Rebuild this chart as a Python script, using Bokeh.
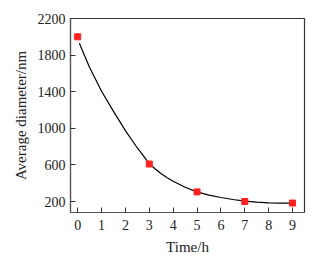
from bokeh.plotting import figure
from bokeh.models import Range1d, FixedTicker
from bokeh.embed import file_html
from bokeh.resources import INLINE

# measured points
time_h = [0, 3, 5, 7, 9]
diameter_nm = [2000, 610, 305, 200, 183]

# fitted curve
curve_x = [0.07, 0.5, 1.0, 1.5, 2.0, 2.5, 3.0, 3.25, 3.5, 3.75, 4.0, 4.5, 5.0, 5.5, 6.0, 6.5, 7.0, 7.5, 8.0, 8.5, 9.0]
curve_y = [1930, 1665, 1405, 1185, 975, 785, 615, 555, 503, 460, 422, 356, 305, 270, 244, 222, 205, 193, 186, 183, 182]

x_ticks = [0, 1, 2, 3, 4, 5, 6, 7, 8, 9]
y_ticks = [200, 600, 1000, 1400, 1800, 2200]

FONT = "Liberation Serif"

p = figure(width=319, height=262, output_backend="svg", toolbar_location=None,
           x_range=Range1d(-0.3, 9.5), y_range=Range1d(80, 2200),
           min_border_left=70, min_border_right=15, min_border_top=18, min_border_bottom=50)
p.background_fill_color = "white"
p.border_fill_color = "white"
p.outline_line_color = "#333333"
p.outline_line_width = 1.2
p.xgrid.visible = False
p.ygrid.visible = False

p.line(curve_x, curve_y, line_color="black", line_width=1.2)
p.scatter(time_h, diameter_nm, marker="square", size=6, fill_color="#ff2020", line_color="#ff2020")

for ax in (p.xaxis[0], p.yaxis[0]):
    ax.major_tick_in = 5
    ax.major_tick_out = 0
    ax.minor_tick_line_color = None
    ax.axis_line_color = "#555555"
    ax.axis_line_width = 1.2
    ax.major_tick_line_color = "#333333"
    ax.major_label_text_font = FONT
    ax.major_label_text_font_size = "14px"
    ax.major_label_text_color = "#222222"
    ax.axis_label_text_font = FONT
    ax.axis_label_text_font_size = "15px"
    ax.axis_label_text_font_style = "normal"
    ax.axis_label_text_color = "#222222"

p.xaxis.ticker = FixedTicker(ticks=x_ticks)
p.yaxis.ticker = FixedTicker(ticks=y_ticks)
p.xaxis.axis_label = "Time/h"
p.yaxis.axis_label = "Average diameter/nm"
p.xaxis.major_label_standoff = 7
p.yaxis.major_label_standoff = 5
p.xaxis.axis_label_standoff = 6
p.yaxis.axis_label_standoff = 6

open("out.html", "w").write(file_html(p, INLINE))
